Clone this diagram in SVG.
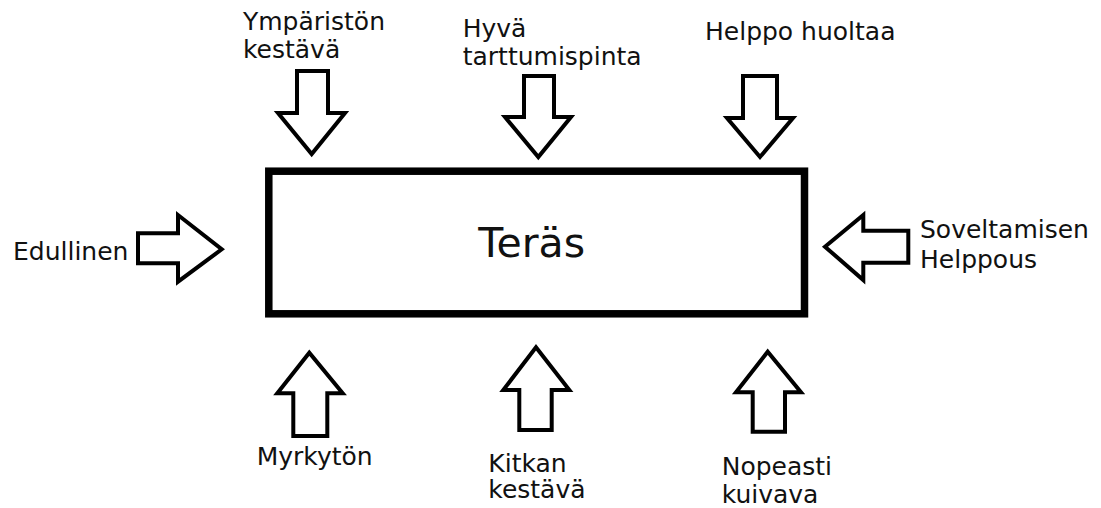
<svg xmlns="http://www.w3.org/2000/svg" width="1101" height="508" viewBox="0 0 1101 508">
  <style>
    .lbl { font-family: "DejaVu Sans", Verdana, sans-serif; font-size: 25px; fill: #111; }
    .main { font-family: "DejaVu Sans", Verdana, sans-serif; font-size: 41px; fill: #111; }
    .arrow { fill: #fff; stroke: #000; stroke-width: 4; stroke-linejoin: miter; }
  </style>
  <rect width="1101" height="508" fill="#fff"/>

  <!-- central block -->
  <g id="node-teras">
    <rect x="268.8" y="171.2" width="535.7" height="142.6" fill="#fff" stroke="#000" stroke-width="7.5"/>
    <text class="main" x="531.7" y="257" text-anchor="middle">Teräs</text>
  </g>

  <!-- block arrows pointing at the central block -->
  <g id="connectors">
    <!-- top -->
    <polygon class="arrow" points="297,71 328,71 328,113 345,113 311.7,154 278,113 297,113"/>
    <polygon class="arrow" points="524,76 554,76 554,117 571,117 538.3,157 505,117 524,117"/>
    <polygon class="arrow" points="743,76 777,76 777,118 793,118 760,157 727,118 743,118"/>
    <!-- left / right -->
    <polygon class="arrow" points="138,233.3 178,233.3 178,215 221.7,249.3 178,281.7 178,263.3 138,263.3"/>
    <polygon class="arrow" points="908.3,230.7 863.3,230.7 863.3,215 825,246.7 863.3,280 863.3,262.7 908.3,262.7"/>
    <!-- bottom -->
    <polygon class="arrow" points="293.3,436 327.3,436 327.3,393.3 342.7,393.3 309.3,352.7 277.3,393.3 293.3,393.3"/>
    <polygon class="arrow" points="519.3,430 551.7,430 551.7,390 569.3,390 536,347.3 503.3,390 519.3,390"/>
    <polygon class="arrow" points="752.7,431.7 785,431.7 785,392.3 801,392.3 767.7,351.7 736,392.3 752.7,392.3"/>
  </g>

  <g id="node-ymparisto">
    <text class="lbl" x="243" y="30">Ympäristön</text>
    <text class="lbl" x="243" y="58.3">kestävä</text>
  </g>
  <g id="node-tartunta">
    <text class="lbl" x="462.7" y="36.7">Hyvä</text>
    <text class="lbl" x="462.7" y="65">tarttumispinta</text>
  </g>
  <g id="node-huolto">
    <text class="lbl" x="705" y="40">Helppo huoltaa</text>
  </g>
  <g id="node-edullinen">
    <text class="lbl" x="13" y="260">Edullinen</text>
  </g>
  <g id="node-soveltaminen">
    <text class="lbl" x="920" y="238.3">Soveltamisen</text>
    <text class="lbl" x="920" y="268.3">Helppous</text>
  </g>
  <g id="node-myrkyton">
    <text class="lbl" x="256.7" y="465">Myrkytön</text>
  </g>
  <g id="node-kitka">
    <text class="lbl" x="488.3" y="471.7">Kitkan</text>
    <text class="lbl" x="488.3" y="498">kestävä</text>
  </g>
  <g id="node-kuivuminen">
    <text class="lbl" x="721.7" y="475">Nopeasti</text>
    <text class="lbl" x="721.7" y="503.3">kuivava</text>
  </g>
</svg>
